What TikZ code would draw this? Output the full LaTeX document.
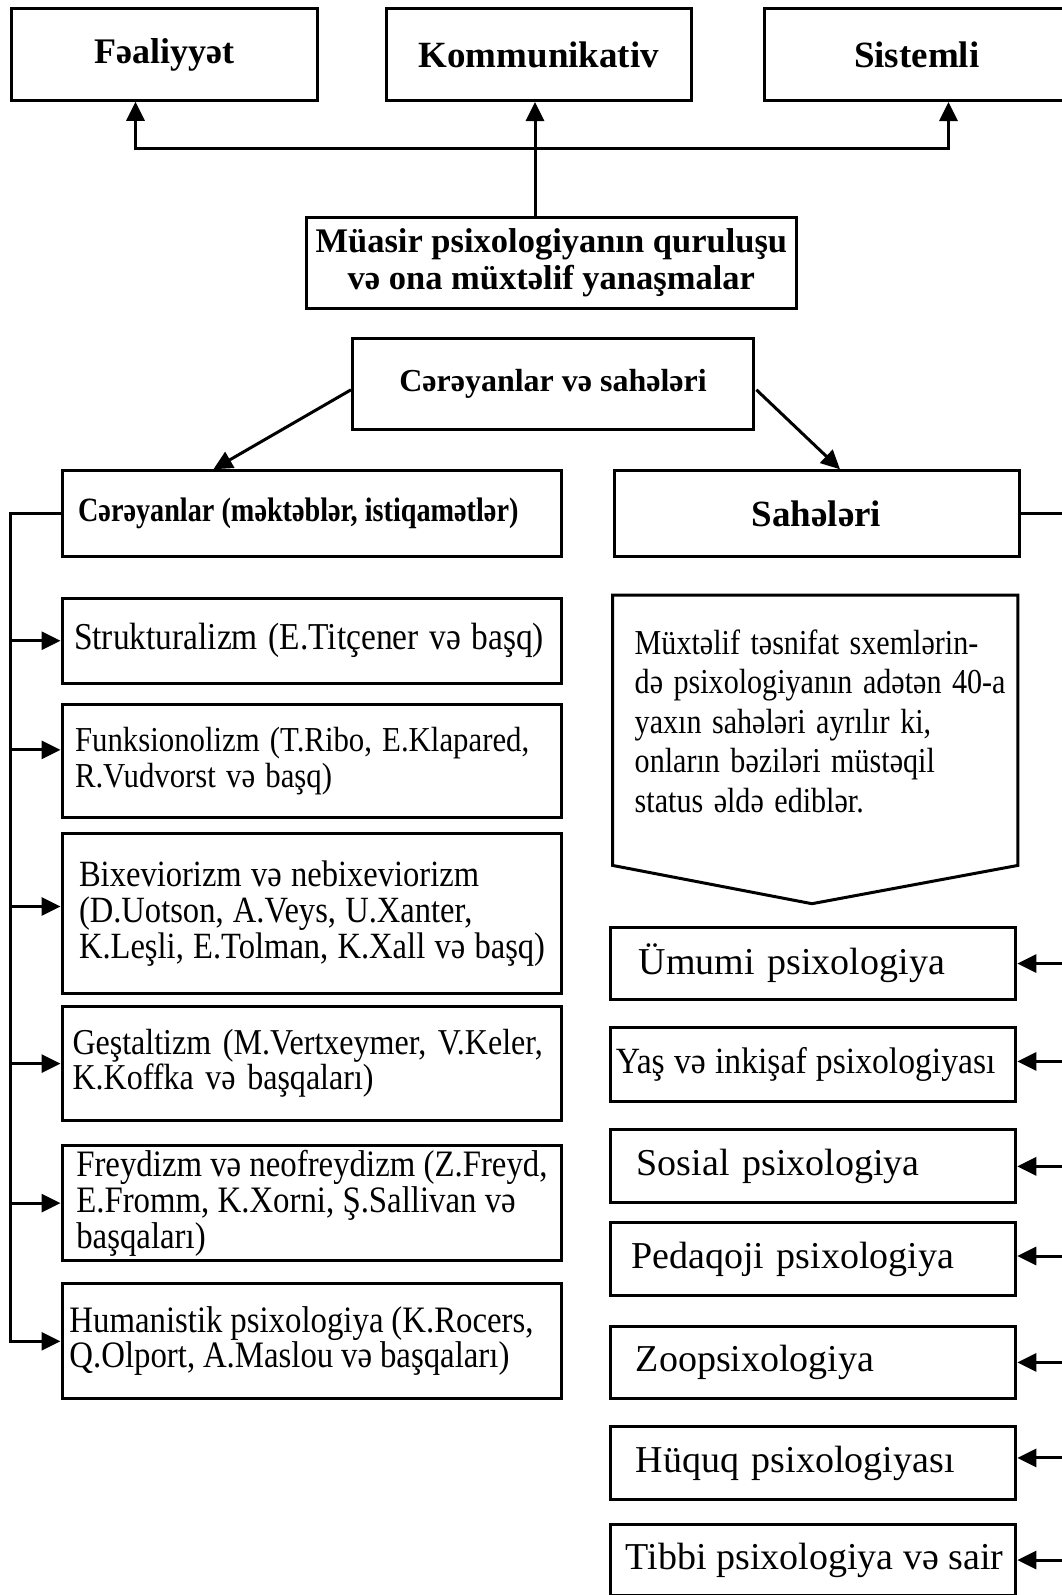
\documentclass[tikz,border=0pt]{standalone}
\usepackage{fontspec}
\setmainfont{Liberation Serif}
\newfontfamily\cnd[FakeStretch=0.88]{Liberation Serif}
\newfontfamily\cndp[FakeStretch=0.86]{Liberation Serif}
\newfontfamily\cndb[FakeStretch=0.83]{Liberation Serif}
\newfontfamily\cndy[FakeStretch=0.91]{Liberation Serif}
\def\tsp{0.3333em}
\newcommand\sps[1]{\def\tsp{#1em}}
\usetikzlibrary{arrows.meta,calc}
\tikzset{
  box/.style={draw, line width=3pt, inner sep=0pt, anchor=north west},
  conn/.style={line width=3pt},
  arr/.style={line width=3pt, -{Triangle[length=19pt,width=18pt]}},
  hd/.style={font=\bfseries\fontsize{#1}{#1}\selectfont, align=center},
  lbox/.style={box, minimum width=499.5pt, text width=499.5pt, align=left},
  rbox/.style={box, minimum width=405pt, text width=405pt, align=left, font=\fontsize{38}{40}\selectfont},
}
\newcommand\tline[2]{\hspace*{#1}\mbox{\spaceskip=\tsp\relax #2}}
\begin{document}
\begin{tikzpicture}[x=1pt,y=-1pt]
\useasboundingbox (0,0) rectangle (1062,1595);
\fill[white] (0,0) rectangle (1062,1595);
\clip (0,0) rectangle (1062,1595);

% top row
\node[box, minimum width=306pt, minimum height=91.5pt, hd=36] (f1) at (9.5,7.3) {Fəaliyyət};
\node[box, minimum width=305pt, minimum height=92pt, hd=37] (f2) at (384.8,7) {Kommunikativ};
\node[box, minimum width=304.6pt, minimum height=92pt, hd=37] (f3) at (762.9,7) {Sistemli};
\node[box, minimum width=489.7pt, minimum height=91pt, font=\bfseries\fontsize{34.5}{37}\selectfont, align=center] (main) at (305,216) {Müasir psixologiyanın quruluşu\\və ona müxtəlif yanaşmalar};

\node[box, minimum width=401pt, minimum height=91pt, hd=32] (cer) at (351,336.5) {Cərəyanlar və sahələri};
\node[box, minimum width=498.6pt, minimum height=86pt, text width=498.6pt, align=left, font=\cndb\bfseries\fontsize{34}{36}\selectfont\sps{0.21}] (cerL) at (61,469.3) {\tline{15.6pt}{Cərəyanlar (məktəblər, istiqamətlər)}};
\node[box, minimum width=405pt, minimum height=86pt, hd=37] (sah) at (612.5,469.3) {Sahələri};

% left list
\node[lbox, minimum height=85pt, font=\cnd\fontsize{38}{36}\selectfont\sps{0.28}] (l1) at (60.5,596.7) {\tline{12pt}{Strukturalizm (E.Titçener və başq)}};
\node[lbox, minimum height=113.3pt, font=\cnd\fontsize{35}{35.5}\selectfont\sps{0.29}] (l2) at (60.5,702.7) {\tline{13pt}{Funksionolizm (T.Ribo, E.Klapared,}\\\tline{13pt}{R.Vudvorst və başq)}};
\node[lbox, minimum height=160.6pt, font=\cnd\fontsize{37}{36}\selectfont\sps{0.25}] (l3) at (60.5,831.7) {\tline{17pt}{Bixeviorizm və nebixeviorizm}\\\tline{17pt}{(D.Uotson, A.Veys, U.Xanter,}\\\tline{17pt}{K.Leşli, E.Tolman, K.Xall və başq)}};
\node[lbox, minimum height=114.3pt, font=\cnd\fontsize{36.4}{35}\selectfont\sps{0.32}] (l4) at (60.5,1005) {\tline{10.5pt}{Geştaltizm (M.Vertxeymer, V.Keler,}\\\tline{10.5pt}{K.Koffka və başqaları)}};
\node[lbox, minimum height=115.3pt, font=\cnd\fontsize{37.3}{36}\selectfont\sps{0.22}] (l5) at (60.5,1144) {\tline{14.3pt}{Freydizm və neofreydizm (Z.Freyd,}\\\tline{14.3pt}{E.Fromm, K.Xorni, Ş.Sallivan və}\\\tline{14.3pt}{başqaları)}};
\node[lbox, minimum height=115pt, font=\cnd\fontsize{37.3}{35}\selectfont\sps{0.21}] (l6) at (60.5,1282.3) {\tline{7.4pt}{Humanistik psixologiya (K.Rocers,}\\\tline{7.4pt}{Q.Olport, A.Maslou və başqaları)}};

% pentagon
\node[inner sep=0pt, anchor=north west, minimum width=405pt, minimum height=252pt, text width=405pt, align=left, font=\cndp\fontsize{35}{39.5}\selectfont\sps{0.3}] (pent) at (612.5,595) {\tline{22pt}{Müxtəlif təsnifat sxemlərin-}\\\tline{22pt}{də psixologiyanın adətən 40-a}\\\tline{22pt}{yaxın sahələri ayrılır ki,}\\\tline{22pt}{onların bəziləri müstəqil}\\\tline{22pt}{status əldə ediblər.}};
\draw[conn, line join=miter] (pent.north west) -- (pent.north east) -- ($(pent.south east)+(0,18)$) -- ($(pent.south)+(-3.3,56.3)$) -- ($(pent.south west)+(0,18)$) -- cycle;

% right list
\node[rbox, minimum height=72.7pt] (r1) at (609.3,925.7) {\tline{28pt}{Ümumi psixologiya}};
\node[rbox, minimum height=73.2pt, font=\cndy\fontsize{37}{40}\selectfont\sps{0.25}] (r2) at (609.3,1026.3) {\tline{5pt}{Yaş və inkişaf psixologiyası}};
\node[rbox, minimum height=73.1pt] (r3) at (609.3,1128.3) {\tline{26pt}{Sosial psixologiya}};
\node[rbox, minimum height=72.2pt] (r4) at (609.3,1221.4) {\tline{20.4pt}{Pedaqoji psixologiya}};
\node[rbox, minimum height=72.7pt] (r5) at (609.3,1324.6) {\tline{25pt}{Zoopsixologiya}};
\node[rbox, minimum height=72.2pt] (r6) at (609.3,1425.3) {\tline{25pt}{Hüquq psixologiyası}};
\node[rbox, minimum height=71.5pt, font=\fontsize{38}{40}\selectfont\sps{0.25}] (r7) at (609.3,1522.8) {\tline{15pt}{Tibbi psixologiya və sair}};

% top connectors
\coordinate (hM) at (535,148.7);
\coordinate (hL) at (135.5,148.7);
\coordinate (hR) at (948.5,148.7);
\draw[conn] (main.north -| hM) -- (hM);
\draw[arr] (hM) -- (hL) -- (hL |- f1.south);
\draw[arr] (hM) -- (hR) -- (hR |- f3.south);
\draw[arr] (hM) -- (hM |- f2.south);

% diagonals
\draw[arr] ($(cer.west)+(0,6.3)$) -- ($(cerL.north west)+(152.4,0)$);
\draw[arr] ($(cer.east)+(1.4,6.3)$) -- ($(sah.north west)+(227.5,0)$);

% left trunk
\coordinate (lt) at (10,0);
\draw[arr] (cerL.west) -- (cerL.west -| lt) -- (lt |- l6.west) -- (l6.west);
\draw[arr] (lt |- l1.west) -- (l1.west);
\coordinate (a2) at ($(l2.west)+(0,-11)$);
\draw[arr] (lt |- a2) -- (a2);
\coordinate (a3) at ($(l3.west)+(0,-7)$);
\draw[arr] (lt |- a3) -- (a3);
\draw[arr] (lt |- l4.west) -- (l4.west);
\draw[arr] (lt |- l5.west) -- (l5.west);

% right trunk
\coordinate (rt) at (1085,0);
\draw[conn] (sah.east) -- (sah.east -| rt) -- (rt |- r7.east);
\draw[arr] (rt |- r1.east) -- (r1.east);
\coordinate (b2) at ($(r2.east)+(0,-3)$);
\draw[arr] (rt |- b2) -- (b2);
\draw[arr] (rt |- r3.east) -- (r3.east);
\coordinate (b4) at ($(r4.east)+(0,-3)$);
\draw[arr] (rt |- b4) -- (b4);
\draw[arr] (rt |- r5.east) -- (r5.east);
\coordinate (b6) at ($(r6.east)+(0,-5)$);
\draw[arr] (rt |- b6) -- (b6);
\draw[arr] (rt |- r7.east) -- (r7.east);
\end{tikzpicture}
\end{document}
